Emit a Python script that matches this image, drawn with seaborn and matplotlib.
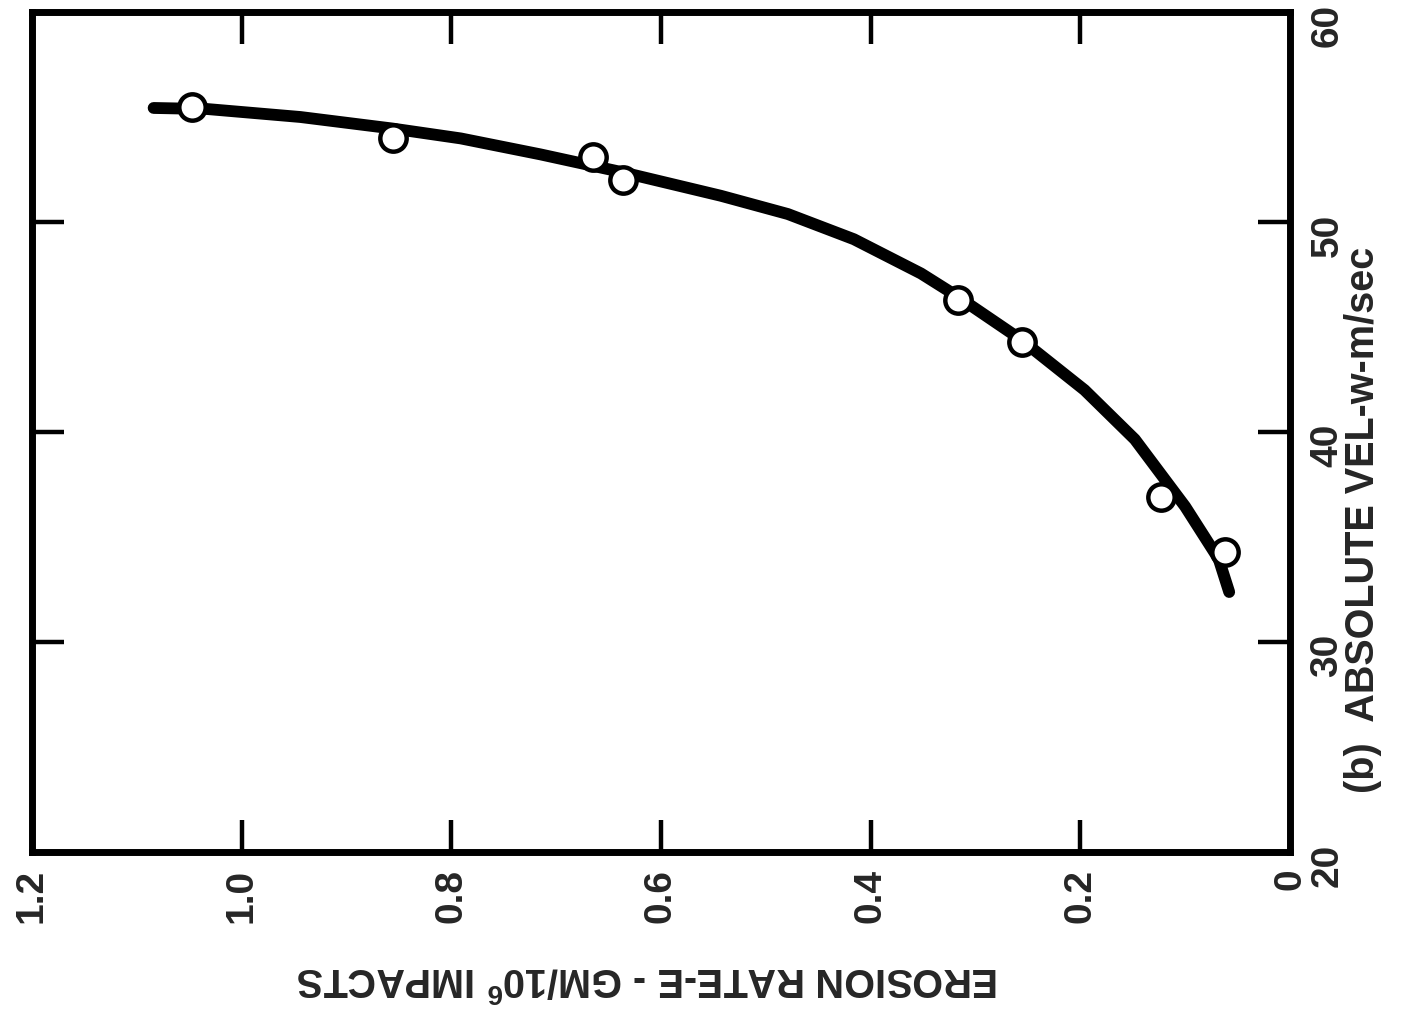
import matplotlib
matplotlib.use("Agg")
import matplotlib.pyplot as plt
import matplotlib.transforms as mtransforms
import seaborn as sns
import pandas as pd

# ---- data ----
erosion_ticks = [0, 0.2, 0.4, 0.6, 0.8, 1.0, 1.2]
erosion_tick_labels = ["0", "0.2", "0.4", "0.6", "0.8", "1.0", "1.2"]
velocity_ticks = [20, 30, 40, 50, 60]
velocity_tick_labels = ["20", "30", "40", "50", "60"]

point_erosion = [1.047, 0.856, 0.665, 0.636, 0.317, 0.256, 0.123, 0.062]
point_velocity = [55.5, 54.0, 53.1, 52.0, 46.3, 44.3, 36.9, 34.3]

curve_erosion = [1.084, 1.033, 0.944, 0.856, 0.791, 0.715, 0.636, 0.543, 0.479,
                 0.416, 0.352, 0.317, 0.256, 0.196, 0.148, 0.100, 0.068, 0.058]
curve_velocity = [55.43, 55.38, 55.0, 54.45, 53.98, 53.22, 52.36, 51.25, 50.38,
                  49.18, 47.55, 46.45, 44.38, 42.0, 39.65, 36.45, 33.95, 32.38]

xlabel_text = "EROSION RATE-E - GM/10$^{6}$ IMPACTS"
ylabel_text = "(b)  ABSOLUTE VEL-w-m/sec"

# ---- style ----
sns.set_theme(style="white")
plt.rcParams["font.family"] = ["Liberation Sans", "DejaVu Sans"]
plt.rcParams["mathtext.fontset"] = "custom"
plt.rcParams["mathtext.rm"] = "Liberation Sans:bold"
plt.rcParams["mathtext.it"] = "Liberation Sans:bold"
plt.rcParams["mathtext.bf"] = "Liberation Sans:bold"

fig = plt.figure(figsize=(14.15, 10.24), dpi=100)
ax = fig.add_axes([32 / 1415, 172 / 1024, (1290 - 32) / 1415, (852 - 12) / 1024])

curve_df = pd.DataFrame({"erosion": curve_erosion, "velocity": curve_velocity})
pts_df = pd.DataFrame({"erosion": point_erosion, "velocity": point_velocity})

sns.lineplot(data=curve_df, x="erosion", y="velocity", sort=False, color="black",
             linewidth=8.5, ax=ax, zorder=2, solid_capstyle="round",
             solid_joinstyle="round")
sns.scatterplot(data=pts_df, x="erosion", y="velocity", s=360, marker="o",
                facecolor="white", edgecolor="black", linewidth=3.2, ax=ax, zorder=3)

ax.set_xlim(1.2, 0)
ax.set_ylim(20, 60)
ax.set_xticks(erosion_ticks)
ax.set_xticklabels(erosion_tick_labels, rotation=90, fontsize=28, fontweight="bold",
                   va="top", ha="center")
ax.set_yticks(velocity_ticks)
ax.set_yticklabels(velocity_tick_labels, rotation=90, fontsize=28, fontweight="bold",
                   va="center", ha="left")

ax.tick_params(axis="both", direction="in", length=23, width=3.2, color="black",
               top=True, bottom=True, left=True, right=True,
               labelleft=False, labelright=True, labelbottom=True, labeltop=False)
ax.tick_params(axis="x", pad=12)
ax.tick_params(axis="y", pad=14)

# the scanned labels sit slightly below their ticks
shift = mtransforms.ScaledTranslation(0, -0.13, fig.dpi_scale_trans)
for lab in ax.get_yticklabels():
    lab.set_transform(lab.get_transform() + shift)

for side in ["left", "right", "top", "bottom"]:
    ax.spines[side].set_visible(True)
    ax.spines[side].set_linewidth(5)
    ax.spines[side].set_color("black")

ax.set_xlabel(xlabel_text, rotation=180, fontsize=28.5, fontweight="bold",
              va="center", ha="center")
ax.xaxis.set_label_coords((648 - 32) / 1258, (852 - 980) / 840)
ax.yaxis.set_label_position("right")
ax.set_ylabel(ylabel_text, rotation=90, fontsize=28.5, fontweight="bold",
              va="center", ha="center")
ax.yaxis.set_label_coords((1363 - 32) / 1258, (852 - 520) / 840)

ax.grid(False)
fig.savefig("out.png", dpi=100, facecolor="white")
